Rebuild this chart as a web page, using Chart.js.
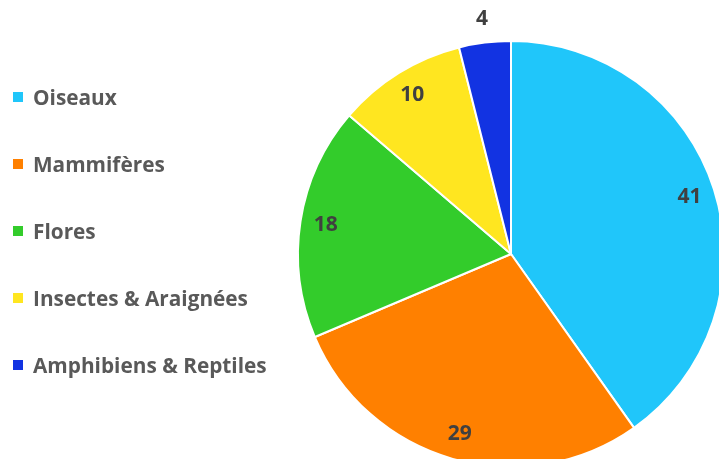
<!DOCTYPE html>
<html>
<head>
<meta charset="utf-8">
<script src="https://cdn.jsdelivr.net/npm/chart.js@4"></script>
<style>
    html, body { margin: 0; padding: 0; background: #fff; overflow: hidden; width: 719px; height: 459px; }
    .chartBox { position: absolute; left: 0; top: 0; width: 1022px; height: 508px; }
    .legend { position: absolute; left: 13px; top: 0; font-family: "Open Sans", Lato, sans-serif; font-weight: bold; font-size: 20.8px; color: #595959; }
    .legend div { position: absolute; white-space: nowrap; }
    .legend span { display: inline-block; width: 10px; height: 10px; margin-right: 10px; vertical-align: middle; position: relative; top: -2px; }
</style>
</head>
<body>
<div class="chartBox"><canvas id="myChart"></canvas></div>
<div class="legend" id="legend"></div>
<script>
var labels = ['Oiseaux', 'Mammifères', 'Flores', 'Insectes & Araignées', 'Amphibiens & Reptiles'];
var values = [41, 29, 18, 10, 4];
var colors = ['#20C6FA', '#FF8000', '#33CC2B', '#FFE620', '#1233E2'];

// legend on the left, one row every 67px
var legend = document.getElementById('legend');
labels.forEach(function (name, i) {
    var row = document.createElement('div');
    row.style.top = (83 + i * 67) + 'px';
    row.innerHTML = '<span style="background:' + colors[i] + '"></span>' + name;
    legend.appendChild(row);
});

// numbers on the slices, small slices get their label outside
var sliceLabels = {
    id: 'sliceLabels',
    afterDatasetsDraw: function (chart) {
        var ctx = chart.ctx;
        var total = values.reduce(function (a, b) { return a + b; }, 0);
        var arcs = chart.getDatasetMeta(0).data;
        ctx.save();
        ctx.font = 'bold 21px "Open Sans", Lato, sans-serif';
        ctx.fillStyle = '#404040';
        ctx.textAlign = 'center';
        ctx.textBaseline = 'middle';
        arcs.forEach(function (arc, i) {
            var mid = (arc.startAngle + arc.endAngle) / 2;
            var f = values[i] / total < 0.05 ? 1.11 : 0.88;
            var r = arc.outerRadius * f;
            ctx.fillText(values[i], arc.x + Math.cos(mid) * r, arc.y + Math.sin(mid) * r);
        });
        ctx.restore();
    }
};

var ctx = document.getElementById('myChart');
var myChart = new Chart(ctx, {
    type: 'pie',
    data: {
        labels: labels,
        datasets: [{
            data: values,
            backgroundColor: colors,
            borderColor: '#ffffff',
            borderWidth: 2
        }]
    },
    options: {
        responsive: true,
        maintainAspectRatio: false,
        animation: false,
        layout: { padding: { top: 40, bottom: 40 } },
        plugins: {
            legend: { display: false },
            tooltip: { enabled: false }
        }
    },
    plugins: [sliceLabels]
});
</script>
</body>
</html>
